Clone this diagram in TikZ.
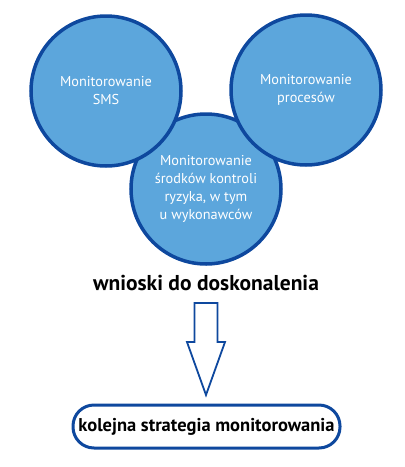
\documentclass[tikz,border=0pt]{standalone}
\usepackage{fontspec}
\setmainfont{PT Sans}
\definecolor{circfill}{RGB}{92,166,220}
\definecolor{circline}{RGB}{14,72,158}
\tikzset{
	area/.style={circle,draw=circline,fill=circfill,line width=3.5pt,minimum size=150pt,
		text=white,align=center,font=\fontsize{14.3}{18}\selectfont},
	outcome/.style={font=\bfseries\fontsize{21.5}{24}\selectfont},
	strategybox/.style={draw=circline,fill=white,line width=3pt,rounded corners=21pt,
		minimum width=267pt,minimum height=43pt,font=\bfseries\fontsize{18.5}{21}\selectfont},
	blockarrow/.style={draw=circline,fill=white,line width=1.8pt,line join=miter}
}
\begin{document}
\begin{tikzpicture}[x=1pt,y=-1pt]
	\useasboundingbox (0,0) rectangle (405,467);

	% Three monitoring areas (lower one behind)
	\node[area] (risk) at (206,189) {Monitorowanie\\środków kontroli\\ryzyka, w tym\\u wykonawców};
	\node[area] (sms) at (106,91) {Monitorowanie\\SMS};
	\node[area] (proc) at (306,90) {Monitorowanie\\procesów};

	% Conclusions
	\node[outcome] (concl) at (206,283) {wnioski do doskonalenia};

	% Next strategy
	\node[strategybox] (next) at (206.5,426.5) {kolejna strategia monitorowania};

	% Block arrow between them
	\coordinate (top) at (206,303);
	\coordinate (tip) at (206,395);
	\draw[blockarrow] ([xshift=-11.5pt]top) -- ([xshift=11.5pt]top) -- ([xshift=11.5pt,yshift=53pt]tip)
		-- ([xshift=19pt,yshift=53pt]tip) -- (tip) -- ([xshift=-19pt,yshift=53pt]tip)
		-- ([xshift=-11.5pt,yshift=53pt]tip) -- cycle;

\end{tikzpicture}
\end{document}
